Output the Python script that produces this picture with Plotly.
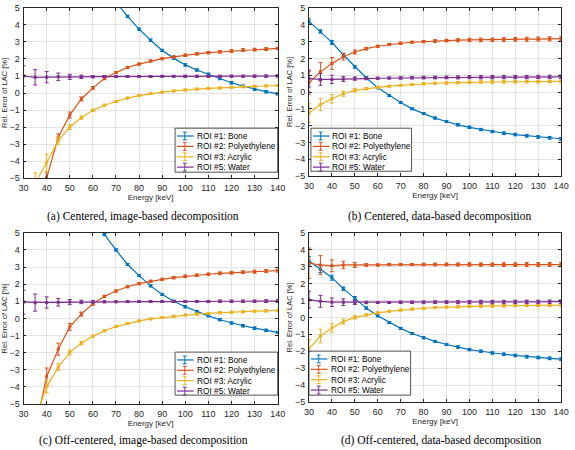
import plotly.graph_objects as go

energy = [30, 35, 40, 45, 50, 55, 60, 65, 70, 75, 80, 85, 90, 95, 100, 105, 110, 115, 120, 125, 130, 135, 140]
series_names = ["ROI #1: Bone", "ROI #2: Polyethylene", "ROI #3: Acrylic", "ROI #5: Water"]
colors = ["#0072BD", "#D95319", "#EDB120", "#7E2F8E"]
x_ticks = [30, 40, 50, 60, 70, 80, 90, 100, 110, 120, 130, 140]
y_ticks = [-5, -4, -3, -2, -1, 0, 1, 2, 3, 4, 5]
captions = ["(a) Centered, image-based decomposition",
            "(b) Centered, data-based decomposition",
            "(c) Off-centered, image-based decomposition",
            "(d) Off-centered, data-based decomposition"]

# Panel (a)
a_bone = [19.5, 16.5, 14.0, 12.0, 10.2, 8.7, 7.4, 6.3, 5.35, 4.5, 3.75, 3.1, 2.5, 2.05, 1.65, 1.35, 1.1, 0.85, 0.6, 0.4, 0.22, 0.08, -0.05]
a_poly = [-12.0, -8.0, -5.0, -2.6, -1.3, -0.35, 0.3, 0.85, 1.2, 1.5, 1.7, 1.88, 2.02, 2.12, 2.22, 2.3, 2.37, 2.42, 2.47, 2.52, 2.55, 2.58, 2.62]
a_acry = [-7.0, -5.3, -4.1, -2.8, -2.0, -1.45, -1.02, -0.72, -0.5, -0.3, -0.15, -0.03, 0.05, 0.12, 0.18, 0.23, 0.27, 0.3, 0.33, 0.36, 0.39, 0.42, 0.44]
a_water = [1.0, 0.92, 0.93, 0.95, 0.95, 0.95, 0.96, 0.97, 0.97, 0.97, 0.97, 0.97, 0.98, 0.98, 0.98, 0.98, 0.98, 0.98, 0.99, 0.99, 0.99, 0.99, 1.0]
a_bone_err = [0.3, 0.25, 0.2, 0.15, 0.12, 0.1, 0.08, 0.08, 0.07, 0.07, 0.07, 0.07, 0.07, 0.07, 0.07, 0.07, 0.07, 0.07, 0.07, 0.07, 0.07, 0.07, 0.07]
a_poly_err = [0.6, 0.45, 0.3, 0.2, 0.18, 0.12, 0.08, 0.07, 0.06, 0.06, 0.06, 0.06, 0.06, 0.07, 0.07, 0.07, 0.07, 0.08, 0.08, 0.08, 0.08, 0.08, 0.08]
a_acry_err = [0.7, 0.6, 0.5, 0.22, 0.15, 0.1, 0.07, 0.06, 0.05, 0.05, 0.05, 0.05, 0.05, 0.05, 0.05, 0.05, 0.06, 0.06, 0.06, 0.06, 0.06, 0.06, 0.06]
a_water_err = [0.6, 0.45, 0.33, 0.22, 0.15, 0.1, 0.07, 0.06, 0.05, 0.05, 0.05, 0.05, 0.05, 0.05, 0.06, 0.06, 0.06, 0.06, 0.06, 0.06, 0.07, 0.07, 0.07]

# Panel (b)
b_bone = [4.2, 3.6, 2.95, 2.2, 1.5, 0.85, 0.25, -0.2, -0.62, -1.0, -1.28, -1.55, -1.75, -1.95, -2.1, -2.23, -2.35, -2.45, -2.53, -2.6, -2.67, -2.72, -2.78]
b_poly = [0.55, 1.2, 1.7, 2.1, 2.38, 2.58, 2.72, 2.82, 2.9, 2.96, 3.0, 3.03, 3.06, 3.08, 3.1, 3.1, 3.11, 3.12, 3.13, 3.14, 3.15, 3.16, 3.17]
b_acry = [-1.25, -0.75, -0.4, -0.1, 0.1, 0.2, 0.28, 0.35, 0.4, 0.45, 0.49, 0.52, 0.54, 0.56, 0.58, 0.59, 0.6, 0.61, 0.61, 0.62, 0.62, 0.63, 0.63]
b_water = [0.8, 0.75, 0.75, 0.78, 0.8, 0.8, 0.82, 0.83, 0.84, 0.85, 0.86, 0.86, 0.87, 0.87, 0.88, 0.88, 0.88, 0.89, 0.89, 0.89, 0.9, 0.9, 0.9]
b_bone_err = [0.15, 0.1, 0.12, 0.1, 0.08, 0.06, 0.05, 0.05, 0.05, 0.05, 0.06, 0.06, 0.06, 0.07, 0.07, 0.07, 0.07, 0.08, 0.08, 0.08, 0.08, 0.08, 0.08]
b_poly_err = [0.7, 0.55, 0.35, 0.2, 0.12, 0.08, 0.06, 0.06, 0.06, 0.06, 0.07, 0.08, 0.08, 0.09, 0.1, 0.1, 0.1, 0.11, 0.11, 0.12, 0.12, 0.12, 0.12]
b_acry_err = [0.55, 0.35, 0.25, 0.15, 0.1, 0.07, 0.06, 0.05, 0.05, 0.06, 0.06, 0.06, 0.07, 0.07, 0.07, 0.08, 0.08, 0.08, 0.08, 0.08, 0.08, 0.08, 0.08]
b_water_err = [0.5, 0.35, 0.25, 0.15, 0.1, 0.07, 0.06, 0.06, 0.07, 0.07, 0.08, 0.08, 0.08, 0.09, 0.09, 0.1, 0.1, 0.1, 0.1, 0.1, 0.1, 0.1, 0.1]

# Panel (c)
c_bone = [15.0, 12.5, 10.5, 8.8, 7.3, 6.0, 5.9, 4.9, 4.0, 3.15, 2.5, 1.9, 1.4, 1.0, 0.68, 0.4, 0.15, -0.08, -0.27, -0.43, -0.57, -0.7, -0.82]
c_poly = [-9.0, -6.5, -3.4, -1.8, -0.5, 0.25, 0.85, 1.28, 1.6, 1.85, 2.03, 2.17, 2.28, 2.38, 2.46, 2.52, 2.58, 2.63, 2.67, 2.7, 2.73, 2.76, 2.79]
c_acry = [-8.0, -5.8, -4.0, -2.85, -2.0, -1.45, -1.05, -0.72, -0.48, -0.3, -0.15, -0.03, 0.05, 0.13, 0.2, 0.25, 0.29, 0.33, 0.36, 0.39, 0.42, 0.44, 0.46]
c_water = [0.95, 0.92, 0.93, 0.94, 0.95, 0.96, 0.97, 0.97, 0.97, 0.98, 0.98, 0.98, 0.98, 0.99, 0.99, 0.99, 0.99, 1.0, 1.0, 1.0, 1.0, 1.01, 1.01]
c_bone_err = [0.3, 0.25, 0.2, 0.15, 0.12, 0.1, 0.08, 0.07, 0.06, 0.06, 0.06, 0.06, 0.06, 0.06, 0.06, 0.06, 0.06, 0.06, 0.06, 0.07, 0.07, 0.07, 0.07]
c_poly_err = [0.8, 0.6, 0.5, 0.35, 0.2, 0.12, 0.08, 0.07, 0.06, 0.06, 0.06, 0.06, 0.06, 0.07, 0.07, 0.07, 0.07, 0.08, 0.08, 0.08, 0.09, 0.09, 0.09]
c_acry_err = [0.6, 0.45, 0.35, 0.2, 0.15, 0.1, 0.07, 0.06, 0.05, 0.05, 0.05, 0.05, 0.05, 0.05, 0.05, 0.06, 0.06, 0.06, 0.06, 0.06, 0.06, 0.07, 0.07]
c_water_err = [0.7, 0.5, 0.33, 0.22, 0.15, 0.1, 0.07, 0.06, 0.05, 0.05, 0.05, 0.05, 0.05, 0.06, 0.06, 0.06, 0.06, 0.07, 0.07, 0.07, 0.07, 0.08, 0.08]

# Panel (d)
d_bone = [3.35, 2.85, 2.35, 1.7, 1.15, 0.55, 0.1, -0.3, -0.65, -0.95, -1.2, -1.42, -1.6, -1.75, -1.9, -2.0, -2.1, -2.18, -2.25, -2.32, -2.37, -2.42, -2.47]
d_poly = [3.2, 3.1, 3.05, 3.1, 3.1, 3.1, 3.1, 3.12, 3.13, 3.13, 3.13, 3.13, 3.13, 3.13, 3.13, 3.12, 3.12, 3.12, 3.12, 3.12, 3.12, 3.12, 3.12]
d_acry = [-1.85, -1.1, -0.62, -0.25, 0.0, 0.15, 0.27, 0.36, 0.43, 0.49, 0.54, 0.58, 0.61, 0.63, 0.65, 0.67, 0.68, 0.69, 0.7, 0.71, 0.71, 0.72, 0.72]
d_water = [1.05, 0.95, 0.9, 0.9, 0.88, 0.88, 0.88, 0.88, 0.89, 0.89, 0.89, 0.9, 0.9, 0.9, 0.9, 0.91, 0.91, 0.91, 0.92, 0.92, 0.92, 0.93, 0.93]
d_bone_err = [0.25, 0.2, 0.15, 0.1, 0.08, 0.07, 0.06, 0.06, 0.06, 0.06, 0.06, 0.06, 0.06, 0.07, 0.07, 0.07, 0.07, 0.08, 0.08, 0.08, 0.08, 0.08, 0.08]
d_poly_err = [0.9, 0.55, 0.35, 0.22, 0.15, 0.08, 0.06, 0.06, 0.06, 0.06, 0.07, 0.08, 0.08, 0.09, 0.1, 0.1, 0.1, 0.11, 0.11, 0.12, 0.12, 0.12, 0.12]
d_acry_err = [0.55, 0.4, 0.25, 0.15, 0.1, 0.07, 0.06, 0.05, 0.05, 0.06, 0.06, 0.06, 0.07, 0.07, 0.07, 0.08, 0.08, 0.08, 0.08, 0.08, 0.08, 0.08, 0.08]
d_water_err = [0.5, 0.35, 0.25, 0.2, 0.12, 0.07, 0.06, 0.06, 0.07, 0.07, 0.08, 0.08, 0.08, 0.09, 0.09, 0.1, 0.1, 0.1, 0.1, 0.1, 0.1, 0.1, 0.1]

panels = [
    ([a_bone, a_poly, a_acry, a_water], [a_bone_err, a_poly_err, a_acry_err, a_water_err]),
    ([b_bone, b_poly, b_acry, b_water], [b_bone_err, b_poly_err, b_acry_err, b_water_err]),
    ([c_bone, c_poly, c_acry, c_water], [c_bone_err, c_poly_err, c_acry_err, c_water_err]),
    ([d_bone, d_poly, d_acry, d_water], [d_bone_err, d_poly_err, d_acry_err, d_water_err]),
]

W, H = 575, 450
def px_x(p):
    return p / W
def px_y(p):
    return 1 - p / H

AXC = "#262626"
# plot area pixel boxes: (left, right, top, bottom)
boxes = [(19, 279, 3, 177), (311, 569, 3, 175), (19, 279, 233, 408), (311, 569, 233, 406)]
# legend boxes: (left, top, width, height)
legend_boxes = [(174, 126, 105, 45), (313, 126, 103, 44), (174, 355, 105, 44), (311, 354, 104, 45)]
caption_pos = [(141, 216), (445, 216), (142, 445), (447, 445)]

fig = go.Figure()
layout = dict(width=W, height=H, margin=dict(l=0, r=0, t=0, b=0),
              paper_bgcolor="white", plot_bgcolor="white", showlegend=False,
              font=dict(family="Liberation Sans, Arial, sans-serif", size=8, color=AXC))

shapes = []
annotations = []
for i, (vals, errs) in enumerate(panels):
    n = i + 1
    xa = "x" if n == 1 else f"x{n}"
    ya = "y" if n == 1 else f"y{n}"
    for j in range(4):
        fig.add_trace(go.Scatter(
            x=energy, y=vals[j], name=series_names[j], mode="lines+markers",
            line=dict(color=colors[j], width=1.2),
            marker=dict(size=3, color=colors[j], symbol="square"),
            error_y=dict(type="data", array=errs[j], visible=True, color=colors[j], thickness=1, width=2),
            xaxis=xa, yaxis=ya, cliponaxis=True,
        ))
    l, r, t, b = boxes[i]
    axkw = dict(showline=True, linecolor=AXC, linewidth=0.8, mirror="ticks", ticks="inside",
                ticklen=3, tickcolor=AXC, showgrid=True, gridcolor="#e3e3e3", gridwidth=1,
                zeroline=False, tickfont=dict(size=9))
    xkey = "xaxis" if n == 1 else f"xaxis{n}"
    ykey = "yaxis" if n == 1 else f"yaxis{n}"
    layout[xkey] = dict(axkw, domain=[px_x(l), px_x(r)], range=[30, 140], tickvals=x_ticks,
                        anchor=ya, ticklabelstandoff=1,
                        title=dict(text="Energy [keV]", font=dict(size=8), standoff=2))
    layout[ykey] = dict(axkw, domain=[px_y(b), px_y(t)], range=[-5, 5], tickvals=y_ticks,
                        anchor=xa, ticklabelstandoff=1,
                        title=dict(text="Rel. Error of LAC [%]", font=dict(size=7.5), standoff=1))

    # custom compact legend (MATLAB style)
    lx, ly, lw, lh = legend_boxes[i]
    shapes.append(dict(type="rect", xref="paper", yref="paper",
                       x0=px_x(lx), x1=px_x(lx + lw), y0=px_y(ly + lh), y1=px_y(ly),
                       fillcolor="white", line=dict(color=AXC, width=0.8), layer="above"))
    for j in range(4):
        ry = ly + 8 + j * 10.6
        shapes.append(dict(type="line", xref="paper", yref="paper",
                           x0=px_x(lx + 2), x1=px_x(lx + 19), y0=px_y(ry), y1=px_y(ry),
                           line=dict(color=colors[j], width=1.2), layer="above"))
        cx = lx + 10
        shapes.append(dict(type="line", xref="paper", yref="paper",
                           x0=px_x(cx), x1=px_x(cx), y0=px_y(ry - 4), y1=px_y(ry + 4),
                           line=dict(color=colors[j], width=1), layer="above"))
        for dy in (-4, 4):
            shapes.append(dict(type="line", xref="paper", yref="paper",
                               x0=px_x(cx - 2), x1=px_x(cx + 2), y0=px_y(ry + dy), y1=px_y(ry + dy),
                               line=dict(color=colors[j], width=1), layer="above"))
        annotations.append(dict(text=series_names[j], x=px_x(lx + 20), y=px_y(ry), xref="paper", yref="paper",
                                showarrow=False, xanchor="left", yanchor="middle",
                                font=dict(size=8.3, color="black")))

for i, cap in enumerate(captions):
    cx, cy = caption_pos[i]
    annotations.append(dict(text=cap, x=px_x(cx), y=px_y(cy), xref="paper", yref="paper",
                            showarrow=False, xanchor="center", yanchor="middle",
                            font=dict(family="Liberation Serif, DejaVu Serif, serif", size=11.5, color="black")))

layout["shapes"] = shapes
layout["annotations"] = annotations
fig.update_layout(**layout)

fig.write_html("out.html")
